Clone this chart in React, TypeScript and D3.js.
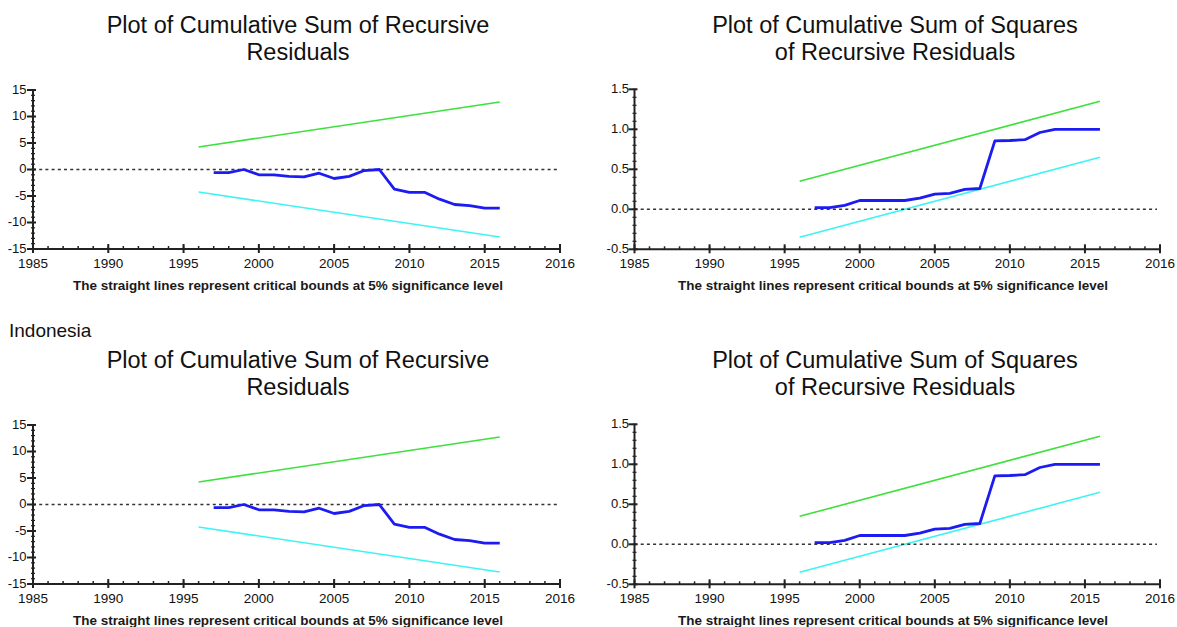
import React from 'react';
import * as d3 from 'd3';

// ---------- data ----------
const years = [1997, 1998, 1999, 2000, 2001, 2002, 2003, 2004, 2005, 2006, 2007, 2008, 2009, 2010, 2011, 2012, 2013, 2014, 2015, 2016];
const cusum = [-0.6, -0.6, 0.0, -1.0, -1.0, -1.3, -1.4, -0.7, -1.7, -1.3, -0.2, 0.0, -3.7, -4.3, -4.3, -5.6, -6.6, -6.8, -7.3, -7.3];
const cusumsq = [0.02, 0.02, 0.05, 0.11, 0.11, 0.11, 0.11, 0.14, 0.19, 0.2, 0.25, 0.26, 0.855, 0.86, 0.87, 0.96, 1.0, 1.0, 1.0, 1.0];

const boundYears = [1996, 2016];
const cusumUpper = [4.25, 12.75];
const cusumLower = [-4.25, -12.75];
const sqUpper = [0.35, 1.35];
const sqLower = [-0.35, 0.65];

const xDomain = [1985, 2020];
const xTickValues = [1985, 1990, 1995, 2000, 2005, 2010, 2015, 2020];
const xTickLabels = ['1985', '1990', '1995', '2000', '2005', '2010', '2015', '2016'];

const cusumDomain = [-15, 15];
const cusumTicks = [-15, -10, -5, 0, 5, 10, 15];
const cusumTickLabels = ['-15', '-10', '-5', '0', '5', '10', '15'];

const sqDomain = [-0.5, 1.5];
const sqTicks = [-0.5, 0, 0.5, 1, 1.5];
const sqTickLabels = ['-0.5', '0.0', '0.5', '1.0', '1.5'];

const cusumTitle = ['Plot of Cumulative Sum of Recursive', 'Residuals'];
const sqTitle = ['Plot of Cumulative Sum of Squares', 'of Recursive Residuals'];
const note = 'The straight lines represent critical bounds at 5% significance level';
const countryLabel = 'Indonesia';

// ---------- styles ----------
const FONT = '"Liberation Sans", Arial, sans-serif';
const AXIS = '#222';
const GREEN = '#3de03d';
const CYAN = '#3ff3f3';
const BLUE = '#1c1cf2';

type PanelProps = {
  offY: number;
  xRange: [number, number];
  yRange: [number, number];
  yDomain: number[];
  yTicks: number[];
  yTickLabels: string[];
  yMinorStep: number;
  values: number[];
  upper: number[];
  lower: number[];
  title: string[];
  titleCx: number;
  noteCx: number;
  labelGap: number;
};

function Panel(p: PanelProps) {
  const x = d3.scaleLinear().domain(xDomain).range(p.xRange);
  const y = d3.scaleLinear().domain(p.yDomain).range([p.yRange[0] + p.offY, p.yRange[1] + p.offY]);
  const ax = p.xRange[0];
  const ay = y(p.yDomain[0]);
  const line = d3.line<[number, number]>().x(d => x(d[0])).y(d => y(d[1]));
  const series = line(years.map((yr, i) => [yr, p.values[i]] as [number, number]));
  const up = line(boundYears.map((yr, i) => [yr, p.upper[i]] as [number, number]));
  const lo = line(boundYears.map((yr, i) => [yr, p.lower[i]] as [number, number]));
  const xMinor = d3.range(xDomain[0] + 1, xDomain[1], 1);
  const nMinor = Math.round((p.yDomain[1] - p.yDomain[0]) / p.yMinorStep);
  const yMinor = d3.range(0, nMinor + 1).map(k => p.yDomain[0] + k * p.yMinorStep);

  return (
    <g>
      {/* title */}
      {p.title.map((t, i) => (
        <text key={i} x={p.titleCx} y={p.offY + 33 + i * 27} textAnchor="middle"
          fontFamily={FONT} fontSize={23.5} fill="#111">{t}</text>
      ))}
      {/* bounds */}
      <path d={up || ''} fill="none" stroke={GREEN} strokeWidth={1.6} />
      <path d={lo || ''} fill="none" stroke={CYAN} strokeWidth={1.6} />
      {/* zero line */}
      <line x1={ax} x2={p.xRange[1] - 3} y1={y(0)} y2={y(0)} stroke="#333" strokeWidth={1.5} strokeDasharray="3 3.2" />
      {/* series */}
      <path d={series || ''} fill="none" stroke={BLUE} strokeWidth={2.8} strokeLinejoin="round" />
      {/* y axis */}
      <line x1={ax} x2={ax} y1={y(p.yDomain[1])} y2={ay} stroke={AXIS} strokeWidth={2} />
      {yMinor.map((v, i) => (
        <line key={'ym' + i} x1={ax - 2} x2={ax + 2} y1={y(v)} y2={y(v)} stroke={AXIS} strokeWidth={1.2} />
      ))}
      {p.yTicks.map((v, i) => (
        <g key={'yt' + i}>
          <line x1={ax - 6} x2={ax + 3} y1={y(v)} y2={y(v)} stroke={AXIS} strokeWidth={2} />
          <text x={ax - p.labelGap} y={y(v)} dy="0.3em" textAnchor="end" fontFamily={FONT} fontSize={13} fill="#111">{p.yTickLabels[i]}</text>
        </g>
      ))}
      {/* x axis */}
      <line x1={ax} x2={p.xRange[1]} y1={ay} y2={ay} stroke={AXIS} strokeWidth={2} />
      {xMinor.map((v, i) => (
        <line key={'xm' + i} x1={x(v)} x2={x(v)} y1={ay - 3} y2={ay} stroke={AXIS} strokeWidth={1.5} />
      ))}
      {xTickValues.map((v, i) => (
        <g key={'xt' + i}>
          <line x1={x(v)} x2={x(v)} y1={ay - 5} y2={ay + 4} stroke={AXIS} strokeWidth={2} />
          <text x={x(v)} y={ay + 19} textAnchor="middle" fontFamily={FONT} fontSize={13.5} fill="#111">{xTickLabels[i]}</text>
        </g>
      ))}
      {/* note */}
      <text x={p.noteCx} y={ay + 41} textAnchor="middle" fontFamily={FONT} fontSize={12.5} fontWeight="bold"
        fill="#1a1a1a" textLength={430} lengthAdjust="spacingAndGlyphs">{note}</text>
    </g>
  );
}

export default function App() {
  const rows = [0, 335];
  return (
    <svg width={1177} height={627} style={{ position: 'absolute', left: 0, top: 0, background: '#fff' }}>
      <rect x={0} y={0} width={1177} height={627} fill="#fff" />
      {rows.map((off, r) => (
        <g key={r}>
          <Panel offY={off} xRange={[33, 560]} yRange={[249, 90]} yDomain={cusumDomain}
            yTicks={cusumTicks} yTickLabels={cusumTickLabels} yMinorStep={1}
            values={cusum} upper={cusumUpper} lower={cusumLower}
            title={cusumTitle} titleCx={298} noteCx={288} labelGap={6.5} />
          <Panel offY={off} xRange={[634.5, 1160]} yRange={[249.3, 89.3]} yDomain={sqDomain}
            yTicks={sqTicks} yTickLabels={sqTickLabels} yMinorStep={0.1}
            values={cusumsq} upper={sqUpper} lower={sqLower}
            title={sqTitle} titleCx={895} noteCx={893} labelGap={5.5} />
        </g>
      ))}
      <text x={9} y={337} fontFamily={FONT} fontSize={19} fill="#111">{countryLabel}</text>
    </svg>
  );
}
